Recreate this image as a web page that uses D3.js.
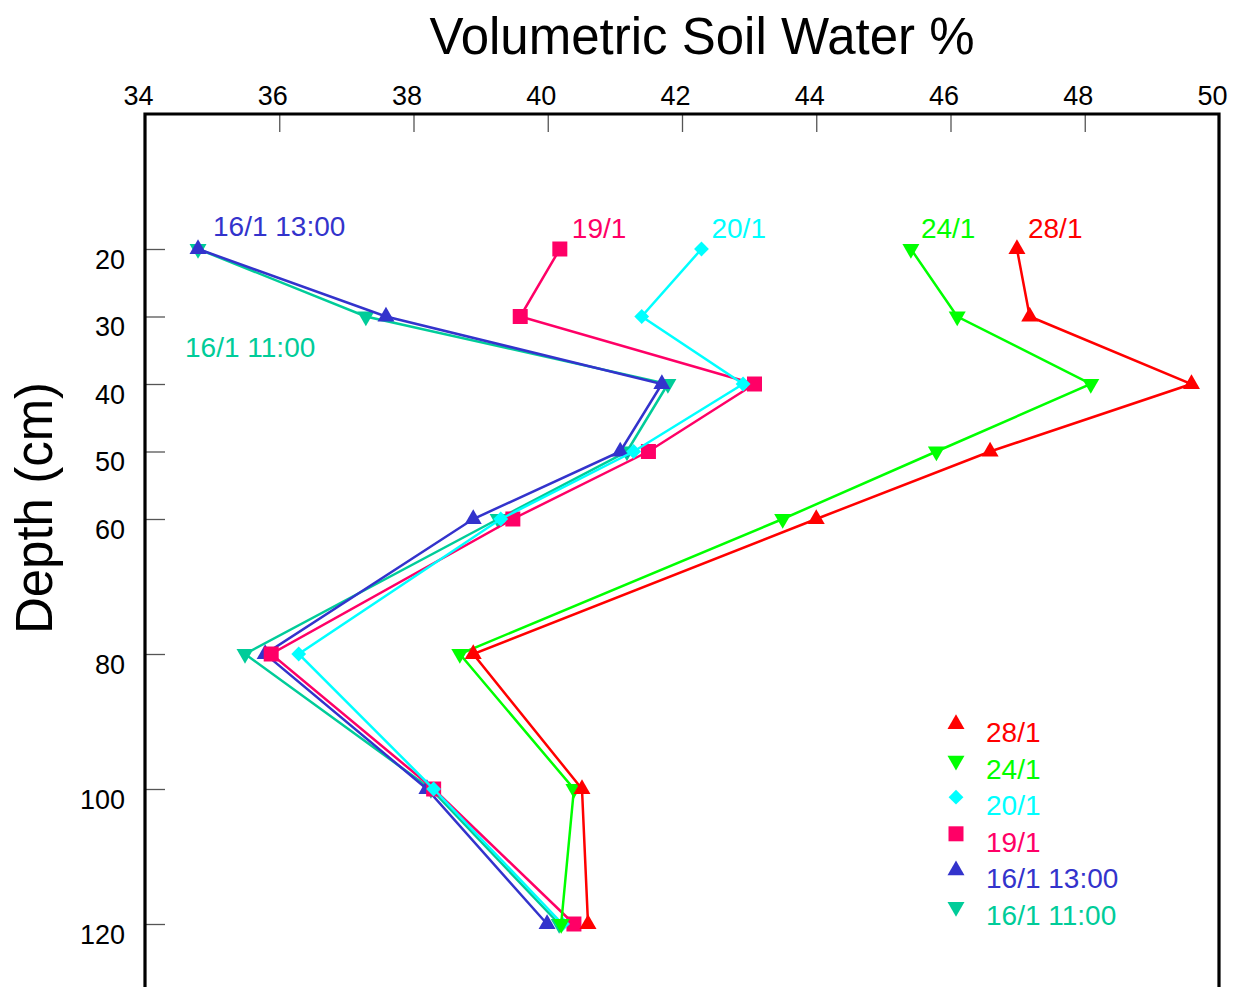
<!DOCTYPE html>
<html>
<head>
<meta charset="utf-8">
<script src="https://cdn.jsdelivr.net/npm/d3@7"></script>
<style>
  body { margin: 0; background: #fff; }
  svg { display: block; font-family: "Liberation Sans", Arial, sans-serif; }
</style>
</head>
<body>
<svg id="chart" width="1236" height="987"></svg>
<script>
// Depths (cm) and soil water readings (%) per sampling date
const depths = [20, 30, 40, 50, 60, 80, 100, 120];
const xTicks = [34, 36, 38, 40, 42, 44, 46, 48, 50];
const yTicks = [20, 30, 40, 50, 60, 80, 100, 120];

const jan28 = [46.99, 47.18, 49.59, 46.59, 44.00, 38.89, 40.51, 40.60];
const jan24 = [45.41, 46.10, 48.09, 45.79, 43.50, 38.69, 40.39, 40.20];
const jan20 = [42.29, 41.40, 42.91, 41.28, 39.30, 36.29, 38.30, 40.22];
const jan19 = [40.18, 39.59, 43.08, 41.50, 39.48, 35.88, 38.30, 40.39];
const jan16pm = [34.79, 37.59, 41.70, 41.08, 38.89, 35.79, 38.20, 39.99];
const jan16am = [34.79, 37.29, 41.79, 41.18, 39.26, 35.49, 38.26, 40.17];

// legend order (top to bottom)
const series = [
  { name: "28/1", values: jan28, color: "#ff0000", shape: "up" },
  { name: "24/1", values: jan24, color: "#00ff00", shape: "down" },
  { name: "20/1", values: jan20, color: "#00ffff", shape: "diamond" },
  { name: "19/1", values: jan19, color: "#ff0066", shape: "square" },
  { name: "16/1 13:00", values: jan16pm, color: "#3333cc", shape: "up" },
  { name: "16/1 11:00", values: jan16am, color: "#00cc99", shape: "down" }
];

// label offsets from each series' first point
const labelOffset = {
  "28/1": [11, -11], "24/1": [10, -11], "20/1": [10, -11], "19/1": [12, -11],
  "16/1 13:00": [15, -13], "16/1 11:00": [-13, 108]
};

const svg = d3.select("#chart");
const plotLeft = 145, plotRight = 1219, plotTop = 114;

const x = d3.scaleLinear().domain([34, 50]).range([plotLeft, plotRight]);
const y = d3.scaleLinear().domain([0, 130]).range([plotTop, plotTop + 130 * 6.75]);

// symbols
function symbolPath(shape) {
  if (shape === "square") return d3.symbol(d3.symbolSquare, 225)();
  if (shape === "diamond") return d3.symbol(d3.symbolSquare, 110)();
  return d3.symbol(d3.symbolTriangle, 125)();
}
function symbolRotate(shape) {
  if (shape === "down") return 180;
  if (shape === "diamond") return 45;
  return 0;
}

// titles
svg.append("text")
  .attr("x", 702).attr("y", 54)
  .attr("text-anchor", "middle")
  .attr("font-size", 51)
  .text("Volumetric Soil Water %");

svg.append("text")
  .attr("transform", `translate(52,${508}) rotate(-90)`)
  .attr("text-anchor", "middle")
  .attr("font-size", 51)
  .text("Depth (cm)");

// top axis
const xAxis = svg.append("g").attr("transform", `translate(0,${plotTop})`)
  .call(d3.axisTop(x).tickValues(xTicks).tickSize(-18).tickFormat(d3.format("d")));
xAxis.select(".domain").remove();
xAxis.selectAll(".tick line").attr("stroke", "#555").attr("stroke-width", 1.3)
  .attr("opacity", d => (d === 34 || d === 50) ? 0 : 1);
xAxis.selectAll(".tick text")
  .attr("font-size", 27).attr("font-family", "Liberation Sans, Arial, sans-serif")
  .attr("fill", "#000").attr("y", -9).attr("dy", 0).attr("dx", -7);

// left axis
const yAxis = svg.append("g").attr("transform", `translate(${plotLeft},0)`)
  .call(d3.axisLeft(y).tickValues(yTicks).tickSize(-20));
yAxis.select(".domain").remove();
yAxis.selectAll(".tick line").attr("stroke", "#555").attr("stroke-width", 1.3);
yAxis.selectAll(".tick text")
  .attr("font-size", 27).attr("font-family", "Liberation Sans, Arial, sans-serif")
  .attr("fill", "#000").attr("x", -20).attr("dy", 0).attr("y", 19);

// frame
svg.append("path")
  .attr("d", `M${plotLeft},${y(130)}V${y(0)}H${plotRight}V${y(130)}`)
  .attr("fill", "none").attr("stroke", "#000").attr("stroke-width", 3.2);

// series, drawn bottom of legend first
const line = d3.line().x(d => x(d.v)).y(d => y(d.depth));
series.slice().reverse().forEach(s => {
  const pts = s.values.map((v, i) => ({ v, depth: depths[i] }));
  const g = svg.append("g");
  g.append("path").datum(pts)
    .attr("d", line)
    .attr("fill", "none").attr("stroke", s.color).attr("stroke-width", 2.5);
  g.selectAll("path.pt").data(pts).join("path")
    .attr("class", "pt")
    .attr("d", symbolPath(s.shape))
    .attr("transform", d => `translate(${x(d.v)},${y(d.depth)}) rotate(${symbolRotate(s.shape)})`)
    .attr("fill", s.color);
  const off = labelOffset[s.name];
  g.append("text")
    .attr("x", x(pts[0].v) + off[0])
    .attr("y", y(pts[0].depth) + off[1])
    .attr("font-size", 28).attr("fill", s.color)
    .text(s.name);
});

// legend
const legend = svg.append("g").attr("transform", "translate(956,724)");
series.forEach((s, i) => {
  const row = legend.append("g").attr("transform", `translate(0,${i * 36.6})`);
  row.append("path")
    .attr("d", symbolPath(s.shape))
    .attr("transform", `rotate(${symbolRotate(s.shape)})`)
    .attr("fill", s.color);
  row.append("text")
    .attr("x", 30).attr("y", 18)
    .attr("font-size", 28).attr("fill", s.color)
    .text(s.name);
});
</script>
</body>
</html>
